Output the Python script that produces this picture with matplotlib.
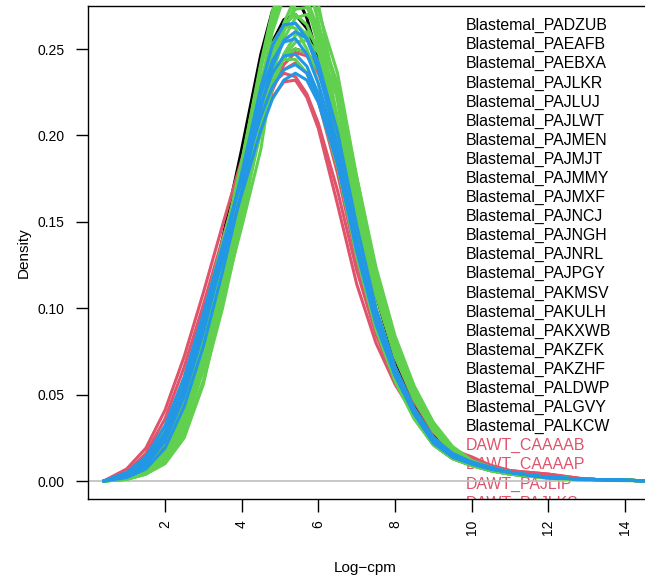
import matplotlib
matplotlib.use("Agg")
import matplotlib.pyplot as plt

plt.rcParams['font.family'] = ['Liberation Sans', 'DejaVu Sans']

# density grid (log-cpm) shared by every sample curve
logcpm = [0.4, 1.0, 1.5, 2.0, 2.5, 3.0, 3.5, 4.0, 4.5, 4.8, 5.1, 5.4, 5.7, 6.0,
          6.5, 7.0, 7.5, 8.0, 8.5, 9.0, 9.5, 10.0, 10.5, 11.0, 12.0, 13.0, 14.8]

# Blastemal samples (black)
blastemal_curves = [
    [0, .003, .010, .026, .054, .093, .140, .192, .247, .272, .284, .282, .268, .244,
     .192, .135, .090, .059, .037, .021, .013, .009, .006, .004, .002, .001, 0],
    [0, .003, .009, .022, .048, .084, .126, .170, .212, .232, .245, .250, .248, .238,
     .208, .160, .108, .070, .044, .026, .015, .010, .007, .005, .002, .001, 0],
    [0, .002, .008, .021, .046, .083, .128, .178, .230, .254, .267, .270, .262, .244,
     .198, .142, .096, .063, .040, .023, .014, .010, .007, .005, .002, .001, 0],
]

# DAWT samples (red)
dawt_curves = [
    [0, .007, .019, .041, .072, .109, .148, .186, .217, .230, .236, .234, .224, .207,
     .168, .122, .085, .058, .038, .024, .016, .012, .008, .005, .003, .001, 0],
    [0, .004, .013, .031, .060, .096, .135, .172, .206, .222, .231, .232, .222, .204,
     .160, .114, .080, .056, .038, .025, .018, .014, .009, .006, .004, .001, 0],
    [0, .003, .009, .022, .046, .080, .120, .162, .204, .226, .241, .248, .246, .236,
     .206, .158, .110, .072, .046, .028, .019, .013, .008, .006, .004, .001, 0],
    [0, .005, .016, .036, .066, .102, .140, .178, .212, .228, .238, .242, .236, .220,
     .178, .128, .088, .060, .040, .025, .017, .013, .009, .006, .003, .001, 0],
]

# third group (green)
green_curves = [
    [0, .001, .004, .010, .025, .056, .105, .147, .192, .235, .265, .280, .278, .262,
     .226, .160, .112, .076, .053, .033, .018, .010, .006, .004, .0015, .0005, 0],
    [0, .003, .010, .025, .052, .090, .135, .185, .240, .270, .288, .290, .280, .258,
     .205, .140, .092, .060, .037, .021, .013, .009, .006, .004, .002, .001, 0],
    [0, .002, .006, .017, .040, .075, .120, .170, .222, .248, .264, .270, .264, .248,
     .205, .150, .100, .066, .042, .025, .015, .010, .007, .005, .002, .001, 0],
    [0, .001, .005, .013, .033, .065, .108, .155, .202, .228, .247, .258, .260, .252,
     .222, .165, .112, .074, .048, .029, .017, .011, .007, .005, .002, .001, 0],
    [0, .002, .007, .019, .043, .080, .126, .178, .238, .268, .290, .298, .290, .266,
     .210, .145, .096, .062, .039, .023, .014, .009, .006, .004, .002, .001, 0],
    [0, .004, .012, .029, .058, .096, .138, .180, .220, .236, .244, .244, .236, .220,
     .182, .132, .092, .062, .040, .024, .015, .011, .008, .005, .002, .001, 0],
    [0, .002, .006, .015, .036, .070, .114, .162, .215, .243, .262, .273, .274, .264,
     .228, .172, .118, .078, .050, .030, .017, .011, .007, .005, .002, .001, 0],
    [0, .003, .009, .023, .050, .088, .133, .183, .232, .253, .264, .262, .250, .230,
     .184, .130, .088, .058, .036, .021, .013, .009, .006, .004, .002, .001, 0],
    [0, .001, .005, .014, .034, .066, .110, .158, .208, .236, .256, .268, .270, .262,
     .230, .175, .120, .080, .052, .032, .018, .011, .007, .005, .002, .001, 0],
    [0, .002, .006, .016, .038, .072, .118, .170, .228, .260, .280, .285, .276, .256,
     .206, .146, .097, .063, .040, .024, .014, .009, .006, .004, .002, .001, 0],
    [0, .002, .006, .016, .037, .070, .112, .158, .204, .228, .245, .254, .255, .248,
     .224, .176, .124, .084, .055, .034, .020, .012, .008, .005, .002, .001, 0],
    [0, .003, .009, .022, .048, .086, .132, .184, .242, .272, .288, .288, .276, .252,
     .198, .136, .090, .058, .036, .021, .013, .009, .006, .004, .002, .001, 0],
    [0, .002, .007, .018, .041, .077, .122, .172, .224, .250, .262, .265, .258, .242,
     .200, .146, .098, .064, .041, .024, .014, .010, .007, .005, .002, .001, 0],
    [0, .001, .004, .011, .028, .058, .100, .150, .205, .236, .260, .276, .280, .272,
     .236, .176, .120, .080, .052, .032, .018, .011, .007, .005, .002, .001, 0],
    [0, .003, .010, .024, .050, .086, .128, .172, .214, .233, .245, .250, .248, .238,
     .208, .158, .108, .072, .047, .029, .017, .011, .007, .005, .002, .001, 0],
    [0, .001, .004, .012, .031, .064, .110, .165, .228, .262, .288, .300, .296, .276,
     .220, .152, .100, .064, .040, .024, .014, .009, .006, .004, .002, .001, 0],
]

# fourth group (blue)
blue_curves = [
    [0, .003, .009, .023, .049, .086, .130, .178, .228, .252, .264, .265, .256, .238,
     .194, .140, .094, .062, .039, .023, .014, .010, .007, .005, .002, .001, 0],
    [0, .004, .012, .028, .055, .090, .128, .166, .203, .221, .232, .236, .232, .219,
     .184, .136, .094, .063, .041, .025, .016, .011, .007, .005, .002, .001, 0],
    [0, .003, .010, .026, .053, .090, .131, .177, .224, .243, .254, .256, .247, .230,
     .190, .135, .093, .062, .039, .022, .014, .010, .007, .005, .002, .001, 0],
    [0, .004, .011, .027, .055, .093, .134, .176, .218, .236, .246, .247, .240, .224,
     .184, .133, .091, .061, .039, .023, .014, .010, .007, .005, .002, .001, 0],
    [0, .002, .007, .019, .043, .078, .121, .168, .216, .240, .255, .260, .256, .242,
     .202, .148, .100, .066, .042, .025, .015, .010, .007, .005, .002, .001, 0],
    [0, .005, .014, .032, .060, .097, .136, .175, .211, .228, .238, .241, .236, .222,
     .184, .135, .093, .062, .040, .024, .015, .011, .008, .005, .002, .001, 0],
]

legend_labels = ['Blastemal_PADZUB', 'Blastemal_PAEAFB', 'Blastemal_PAEBXA',
                 'Blastemal_PAJLKR', 'Blastemal_PAJLUJ', 'Blastemal_PAJLWT',
                 'Blastemal_PAJMEN', 'Blastemal_PAJMJT', 'Blastemal_PAJMMY',
                 'Blastemal_PAJMXF', 'Blastemal_PAJNCJ', 'Blastemal_PAJNGH',
                 'Blastemal_PAJNRL', 'Blastemal_PAJPGY', 'Blastemal_PAKMSV',
                 'Blastemal_PAKULH', 'Blastemal_PAKXWB', 'Blastemal_PAKZFK',
                 'Blastemal_PAKZHF', 'Blastemal_PALDWP', 'Blastemal_PALGVY',
                 'Blastemal_PALKCW', 'DAWT_CAAAAB', 'DAWT_CAAAAP', 'DAWT_PAJLIP',
                 'DAWT_PAJLKS']
legend_groups = ['Blastemal'] * 22 + ['DAWT'] * 4

colors = {'Blastemal': 'black', 'DAWT': '#DF536B', 'green': '#61D04F', 'blue': '#2297E6'}

fig = plt.figure(figsize=(6.45, 5.81), dpi=100)
ax = fig.add_axes([88 / 645, 1 - 499 / 581, 575 / 645, 493 / 581])

for grp, curves in [('Blastemal', blastemal_curves), ('DAWT', dawt_curves),
                    ('green', green_curves), ('blue', blue_curves)]:
    for c in curves:
        ax.plot(logcpm, c, color=colors[grp], lw=2.2, zorder=3,
                solid_joinstyle='round', solid_capstyle='round')

ax.axhline(0, color='#BEBEBE', lw=1.2, zorder=2)

ax.set_xlim(-0.009, 14.99)
ax.set_ylim(-0.0104, 0.2749)

# legend texts, R style, clipped by plot region
for i, (lab, grp) in enumerate(zip(legend_labels, legend_groups)):
    ax.text(9.853, 0.2635 - i * 0.01105, lab, color=colors[grp], fontsize=11.4,
            ha='left', va='center', clip_on=True, zorder=1)

ax.set_xticks([2, 4, 6, 8, 10, 12, 14])
ax.set_yticks([0, 0.05, 0.10, 0.15, 0.20, 0.25])
ax.set_yticklabels(['0.00', '0.05', '0.10', '0.15', '0.20', '0.25'])
ax.tick_params(axis='x', labelrotation=90, length=9, width=1, pad=6, labelsize=10)
ax.tick_params(axis='y', length=9, width=1, pad=8, labelsize=10)
for s in ['left', 'bottom', 'top', 'right']:
    ax.spines[s].set_linewidth(1)
ax.spines['right'].set_visible(False)

ax.set_xlabel('Log\u2212cpm', fontsize=11)
ax.xaxis.set_label_coords(277 / 575, -62 / 493)
ax.set_ylabel('Density', fontsize=11, labelpad=5)

fig.savefig('out.png', dpi=100)
